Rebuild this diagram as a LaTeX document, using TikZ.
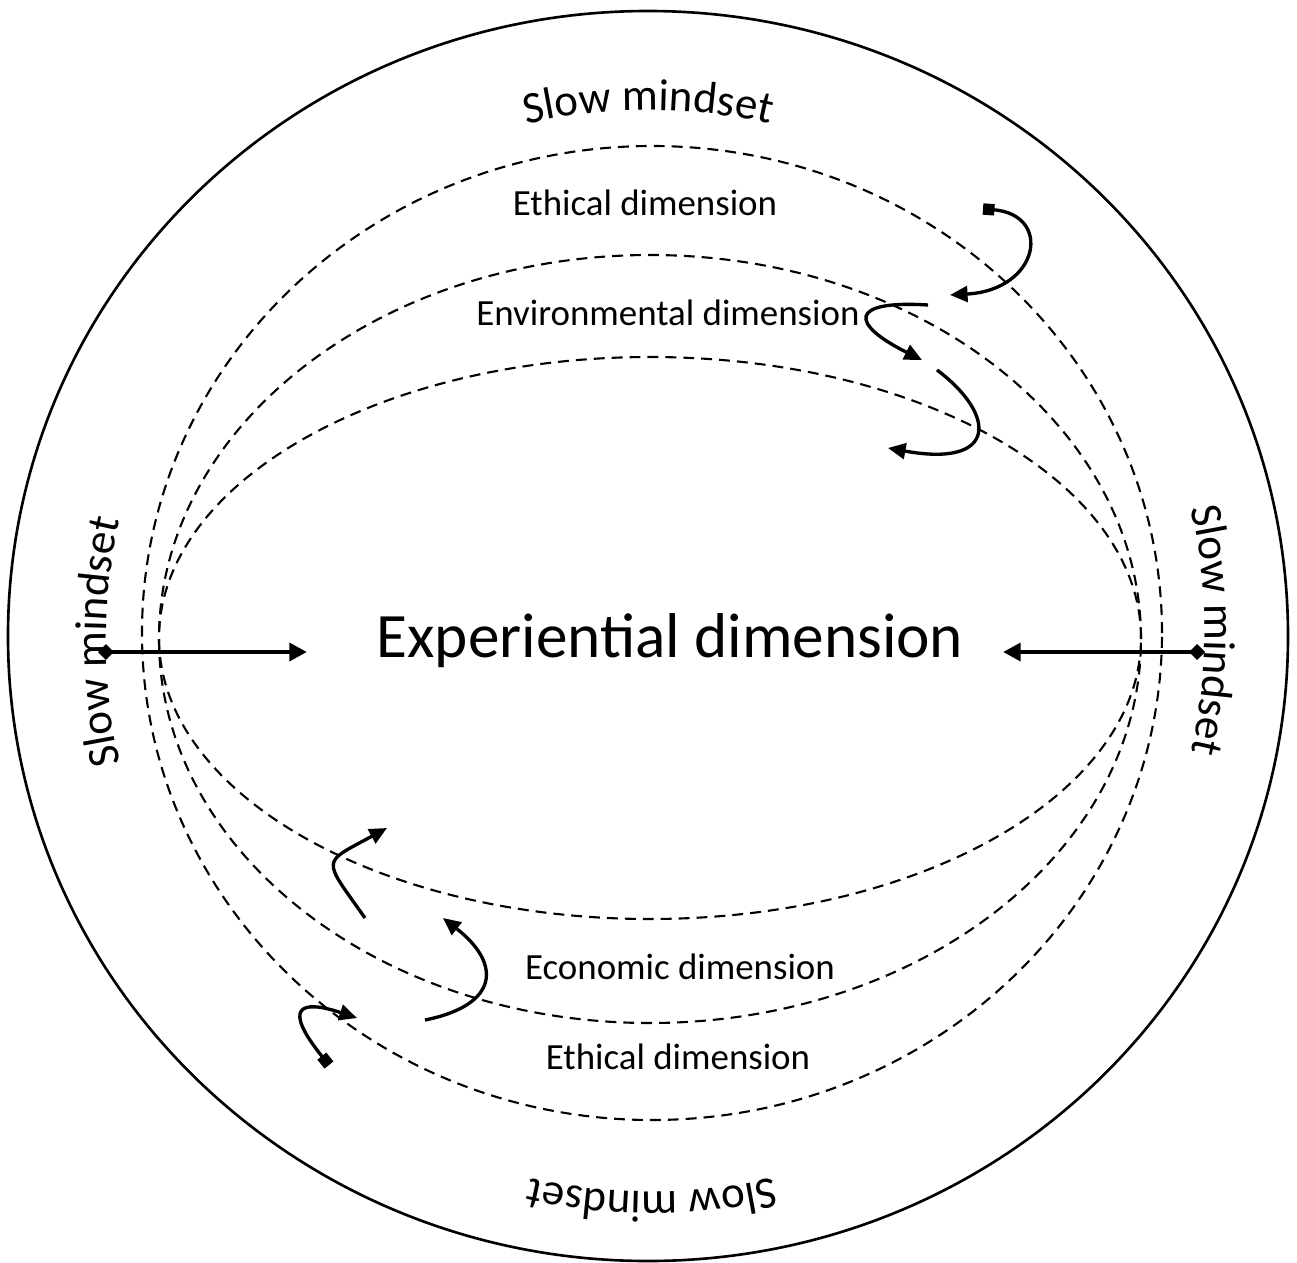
\documentclass[tikz,border=0pt]{standalone}
\usepackage{fontspec}
\setmainfont{Carlito}
\usepackage{tikz}
\usetikzlibrary{arrows.meta}
\usetikzlibrary{decorations.text}
\newcommand{\slowfont}{\fontsize{25.6}{30}\selectfont}
\tikzset{
    ring/.style = {line width=1.5pt,draw=black},
    dimring/.style = {line width=1.2pt,draw=black,dash pattern=on 6.2pt off 4pt},
    dimlabel/.style = {inner sep=0pt,font=\fontsize{21}{25}\selectfont},
    explabel/.style = {inner sep=0pt,font=\fontsize{36}{43}\selectfont},
    edgeh/.style = {{Diamond[length=9pt,width=9pt]}-{Triangle[length=10pt,width=10pt]},line width=2.8pt},
    edgec/.style = {-{Triangle[length=10pt,width=9pt]},line width=1.9pt},
    edgecs/.style = {{Square[length=6.5pt,width=6.5pt]}-{Triangle[length=10pt,width=9pt]},line width=1.9pt},
    slowtext/.style = {decorate,decoration={text along path,text align=center,text={|\slowfont|#1}}}
}

\begin{document}
\begin{tikzpicture}[x=0.02cm,y=0.02cm]
\useasboundingbox (-648,-626) rectangle (649,636);
% rings
\draw[ring] (0,0) ellipse [x radius=640, y radius=625];
\draw[dimring] (4,3) ellipse [x radius=510, y radius=487];
\draw[dimring] (2,-3) ellipse [x radius=491, y radius=384];
\draw[dimring] (2,-2) ellipse [x radius=491, y radius=281];
%
\path[slowtext={Slow mindset}] (0,-4) ++(120:530) arc[start angle=120, end angle=60, radius=530];
\path[slowtext={Slow mindset}] (27,6) ++(30:530) arc[start angle=30, end angle=-30, radius=530];
\path[slowtext={Slow mindset}] (4,-26) ++(-60:530) arc[start angle=-60, end angle=-120, radius=530];
\path[slowtext={Slow mindset}] (-12,-6) ++(210:530) arc[start angle=210, end angle=150, radius=530];
%
\node[dimlabel] at (-3, 433) (eth1) {Ethical dimension};
\node[dimlabel] at (20, 323) (env) {Environmental dimension};
\node[explabel] at (22, -5) (exp) {Experiential dimension};
\node[dimlabel] at (32, -331) (eco) {Economic dimension};
\node[dimlabel] at (30, -421) (eth2) {Ethical dimension};
%
\coordinate (ld) at (-550,-16);
\coordinate (lt) at (-341,-16);
\coordinate (rd) at (557,-16);
\coordinate (rt) at (355,-16);
\coordinate (s1) at (335,427);
\coordinate (e1) at (302,341);
\coordinate (s2) at (280,331);
\coordinate (e2) at (274,276);
\coordinate (s3) at (289,266);
\coordinate (e3) at (240,188);
\coordinate (s4) at (-283,-282);
\coordinate (e4) at (-261,-192);
\coordinate (s5) at (-223,-384);
\coordinate (e5) at (-205,-282);
\coordinate (s6) at (-319,-429);
\coordinate (e6) at (-291,-382);
%
\draw[edgeh] (ld) -- (lt);
\draw[edgeh] (rd) -- (rt);
\draw[edgecs] (s1) .. controls +(70,-5) and +(90,5) .. (e1);
\draw[edgec] (s2) .. controls +(-80,5) and +(-72,36) .. (e2);
\draw[edgec] (s3) .. controls +(60,-45) and +(110,-20) .. (e3);
\draw[edgec] (s4) .. controls +(-43,61) and +(-66,-36) .. (e4);
\draw[edgec] (s5) .. controls +(74,15) and +(59,-46) .. (e5);
\draw[edgecs] (s6) .. controls +(-47,58) and +(-57,19) .. (e6);
\end{tikzpicture}
\end{document}
